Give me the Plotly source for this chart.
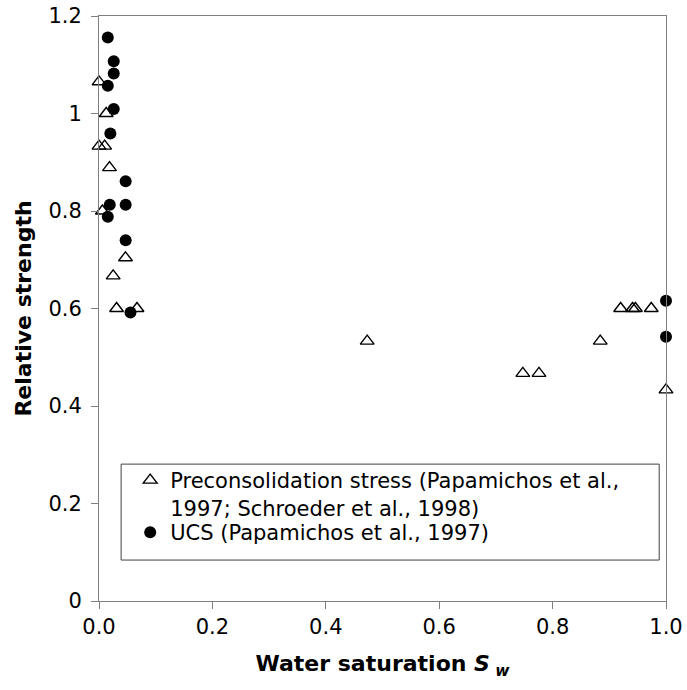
import plotly.graph_objects as go

# Preconsolidation stress (open triangles)
pre_sw = [0.0, 0.0127, 0.0, 0.010, 0.0185, 0.006, 0.0467, 0.025, 0.031, 0.067,
          0.473, 0.7475, 0.776, 0.884, 0.920, 0.941, 0.946, 0.974, 1.0]
pre_rel = [1.065, 1.0, 0.933, 0.933, 0.889, 0.8, 0.704, 0.667, 0.6, 0.6,
           0.533, 0.467, 0.467, 0.533, 0.6, 0.6, 0.6, 0.6, 0.433]

# UCS (filled circles)
ucs_sw = [0.0155, 0.026, 0.026, 0.0155, 0.026, 0.020, 0.047, 0.019, 0.047,
          0.0155, 0.047, 0.0555, 1.0, 1.0]
ucs_rel = [1.156, 1.107, 1.082, 1.057, 1.009, 0.959, 0.861, 0.813, 0.813,
           0.788, 0.740, 0.592, 0.616, 0.542]

pre_name = "Preconsolidation stress (Papamichos et al.,<br>1997; Schroeder et al., 1998)"
ucs_name = "UCS (Papamichos et al., 1997)"

FONT = "DejaVu Sans, Arial, sans-serif"
AXIS_GRAY = "#7f7f7f"

fig = go.Figure()
fig.add_trace(go.Scatter(
    x=pre_sw, y=pre_rel, mode="markers", name=pre_name, cliponaxis=False,
    marker=dict(symbol="triangle-up-open", size=12, color="black",
                line=dict(width=1.4, color="black")),
    legend="legend",
))
fig.add_trace(go.Scatter(
    x=ucs_sw, y=ucs_rel, mode="markers", name=ucs_name, cliponaxis=False,
    marker=dict(symbol="circle", size=12, color="black"),
    legend="legend2",
))

legend_common = dict(
    xanchor="left", yanchor="top", bgcolor="rgba(0,0,0,0)", borderwidth=0,
    font=dict(family=FONT, size=21, color="black"), valign="top",
    tracegroupgap=0,
)

fig.update_layout(
    width=687, height=690,
    margin=dict(l=98.5, r=21, t=16, b=89),
    paper_bgcolor="white", plot_bgcolor="white",
    font=dict(family=FONT, size=21, color="black"),
    showlegend=True,
    legend=dict(x=0.055, y=0.241, **legend_common),
    legend2=dict(x=0.055, y=0.152, **legend_common),
    shapes=[dict(type="rect", xref="paper", yref="paper",
                 x0=0.039, x1=0.988, y0=0.070, y1=0.234,
                 line=dict(color="#404040", width=1), layer="below")],
)

fig.update_xaxes(
    range=[0, 1], tickvals=[0, 0.2, 0.4, 0.6, 0.8, 1.0], tickformat=".1f",
    showgrid=False, zeroline=False, showline=True, mirror=True,
    linecolor=AXIS_GRAY, linewidth=1, ticks="outside", ticklen=7,
    tickcolor=AXIS_GRAY, tickfont=dict(size=21, color="black"),
    automargin=False,
    title=dict(text="<b>Water saturation <i>S</i><sub><i> w</i></sub></b>",
               font=dict(size=22), standoff=17),
)
fig.update_yaxes(
    range=[0, 1.2], tickvals=[0, 0.2, 0.4, 0.6, 0.8, 1.0, 1.2],
    ticktext=["0", "0.2", "0.4", "0.6", "0.8", "1", "1.2"],
    showgrid=False, zeroline=False, showline=True, mirror=True,
    linecolor=AXIS_GRAY, linewidth=1, ticks="outside", ticklen=7,
    tickcolor=AXIS_GRAY, tickfont=dict(size=21, color="black"),
    ticklabelstandoff=5, automargin=False,
    title=dict(text="<b>Relative strength</b>", font=dict(size=22), standoff=10),
)

fig.write_html("out.html")
